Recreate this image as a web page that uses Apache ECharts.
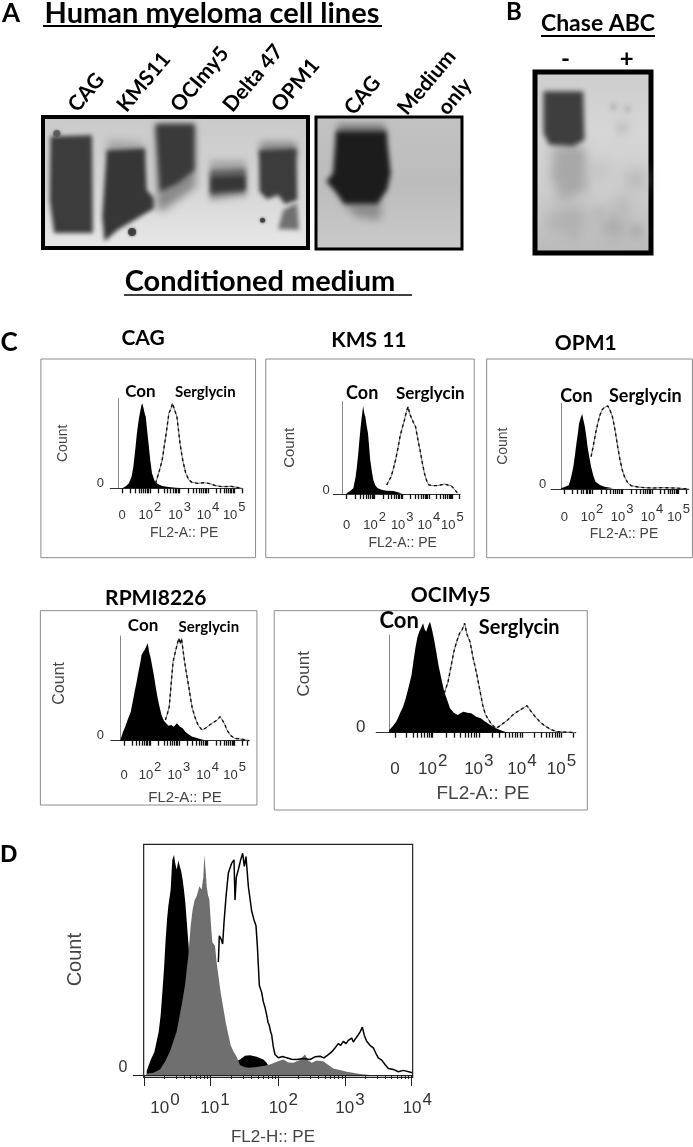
<!DOCTYPE html>
<html><head><meta charset="utf-8">
<style>html,body{margin:0;padding:0;background:#fff}#c{width:693px;height:1147px}</style>
<script src="https://cdn.jsdelivr.net/npm/echarts@6/dist/echarts.min.js"></script>
</head><body><div id="c"></div>
<script>
// ---------- flow-cytometry histograms: [channel, count] ----------
const cagCon=[[275,0],[283,6],[290,15],[296,35],[300,65],[303,100],[305,125],[308,165],[312,205],[316,235],[318,248],[320,255],[323,240],[326,222],[328,215],[331,175],[335,125],[338,85],[342,45],[348,22],[355,13],[365,7],[375,5],[395,2],[420,0]];
const cagSerg=[[350,15],[358,50],[365,85],[370,130],[375,175],[380,225],[385,240],[388,255],[392,250],[398,215],[402,170],[405,135],[411,85],[418,45],[425,25],[432,18],[445,15],[460,17],[472,14],[485,8],[500,5],[520,6],[545,0]];
const kmsCon=[[780,2],[787,8],[795,17],[800,50],[803,82],[806,120],[808,152],[811,195],[814,232],[817,264],[820,240],[822,232],[825,205],[828,182],[831,135],[833,102],[837,65],[840,42],[845,25],[850,17],[860,12],[870,10],[885,9],[895,5],[905,2]];
const kmsSerg=[[870,27],[875,40],[880,52],[885,75],[890,102],[895,135],[900,172],[905,198],[910,222],[914,245],[918,262],[922,240],[925,237],[930,215],[935,202],[940,165],[945,132],[950,95],[955,62],[960,40],[965,27],[975,25],[985,25],[1000,30],[1008,27],[1015,25],[1022,15],[1030,2]];
const opmCon=[[1262,2],[1272,7],[1280,12],[1285,35],[1290,67],[1294,105],[1297,137],[1300,165],[1303,197],[1307,215],[1310,225],[1313,205],[1316,187],[1319,160],[1322,127],[1326,95],[1330,67],[1335,40],[1340,22],[1350,12],[1360,7],[1380,2]];
const opmSerg=[[1330,97],[1335,130],[1340,167],[1345,197],[1350,222],[1355,238],[1360,245],[1364,243],[1368,249],[1373,235],[1378,217],[1382,190],[1385,167],[1390,125],[1395,87],[1400,58],[1405,37],[1412,20],[1420,10],[1435,6],[1450,4],[1470,3],[1490,4],[1520,3],[1550,0]];
const rpmiCon=[[313,2],[320,27],[325,40],[330,57],[335,72],[340,87],[345,117],[350,147],[355,175],[360,207],[365,235],[368,257],[372,265],[376,272],[380,270],[384,292],[388,265],[392,247],[396,222],[400,197],[405,160],[410,127],[415,100],[420,77],[426,60],[432,52],[438,45],[445,47],[452,42],[460,52],[468,42],[475,37],[483,25],[490,19],[500,12],[510,9],[520,5],[530,2]];
const rpmiSerg=[[430,62],[435,80],[440,102],[445,170],[450,237],[455,262],[458,267],[462,295],[465,307],[469,290],[472,307],[476,270],[480,237],[485,200],[490,167],[495,130],[500,97],[507,70],[515,47],[525,32],[535,38],[545,47],[555,55],[565,62],[572,72],[578,62],[584,50],[590,32],[600,15],[610,7],[625,5],[640,2],[648,0]];
const ociCon=[[1012,8],[1020,18],[1030,33],[1035,45],[1040,58],[1048,78],[1055,103],[1062,135],[1070,173],[1075,215],[1080,253],[1085,285],[1090,303],[1095,315],[1100,328],[1104,310],[1108,303],[1113,320],[1118,333],[1123,310],[1128,283],[1134,245],[1140,203],[1147,165],[1155,123],[1162,100],[1170,73],[1180,60],[1190,53],[1197,58],[1205,63],[1215,60],[1225,58],[1238,48],[1250,43],[1262,33],[1275,23],[1288,14],[1300,8],[1320,0]];
const ociSerg=[[1155,118],[1160,135],[1165,153],[1172,195],[1180,243],[1187,272],[1195,298],[1202,310],[1208,328],[1214,295],[1222,273],[1230,225],[1240,173],[1248,125],[1255,83],[1262,55],[1268,43],[1278,25],[1290,13],[1305,25],[1320,38],[1333,53],[1345,63],[1358,72],[1370,81],[1380,65],[1395,43],[1408,28],[1420,18],[1435,8],[1450,3],[1497,0]];
const dBlack=[[440,12],[450,40],[455,52],[463,70],[470,102],[476,130],[482,182],[487,250],[492,322],[497,412],[501,470],[505,512],[509,540],[512,562],[515,620],[517,652],[522,667],[526,640],[530,622],[535,650],[540,647],[544,615],[548,592],[552,560],[556,522],[562,442],[568,362],[580,222],[600,102],[640,42],[700,37],[720,47],[735,58],[750,60],[770,55],[790,47],[800,37],[820,2]];
const dGray=[[440,4],[460,7],[480,17],[495,40],[510,72],[530,132],[545,212],[555,272],[565,362],[572,452],[578,502],[584,530],[590,542],[598,572],[605,562],[610,600],[613,667],[617,620],[620,572],[624,545],[628,532],[634,440],[637,402],[645,392],[650,340],[655,302],[662,250],[670,202],[678,155],[685,122],[692,90],[700,72],[710,55],[720,30],[732,24],[745,22],[770,24],[790,27],[810,32],[830,40],[850,47],[865,38],[880,37],[898,45],[915,62],[925,44],[935,37],[950,44],[970,42],[985,30],[1000,20],[1020,15],[1040,10],[1075,4],[1110,1]];
const dOutline=[[655,342],[658,422],[664,410],[668,397],[672,462],[678,540],[685,612],[695,642],[702,652],[705,530],[709,600],[715,622],[722,652],[728,672],[733,632],[738,662],[745,572],[755,497],[762,470],[768,452],[772,392],[778,272],[785,250],[790,222],[795,205],[800,182],[804,160],[808,150],[812,130],[815,122],[820,85],[825,62],[835,52],[848,56],[860,52],[875,48],[890,47],[910,50],[930,47],[945,55],[960,57],[972,52],[985,62],[995,70],[1005,82],[1015,95],[1022,90],[1030,102],[1038,95],[1045,105],[1055,112],[1060,100],[1065,108],[1075,122],[1080,130],[1087,145],[1093,120],[1100,102],[1110,90],[1120,82],[1128,65],[1135,52],[1145,45],[1155,32],[1165,20],[1180,17],[1195,10],[1210,14],[1238,7]];
// ---------- tick labels ----------
const fl2aLabels=['0','10|2','10|3','10|4','10|5'];
const fl2hLabels=['10|0','10|1','10|2','10|3','10|4'];
const cagTicks=[275,337,404,468,527], kmsTicks=[780,843,905,965,1018], opmTicks=[1270,1332,1400,1467,1527];
const rpmiTicks=[323,390,465,540,610], ociTicks=[1027,1125,1245,1357,1460], dLabelTicks=[495,645,850,1050,1237];
const dMajorTicks=[432,632,835,1035,1235];
// ---------- blots: band outlines [lane position, gel position] ----------
const lanesA1=['CAG','KMS11','OCImy5','Delta 47','OPM1'], laneTicksA1=[163,273,393,511,619];
const lanesA2=['CAG','Medium','only'], laneTicksA2=[785,905,995];
const lanesB=['-','+'], laneTicksB=[1272,1410];
const bandA1Cag=[[114,408],[207,405],[209,700],[122,700],[112,600]];
const smearA1Kms=[[242,418],[322,425],[326,470],[240,470]];
const bandA1Kms=[[240,450],[326,445],[330,570],[347,595],[347,625],[300,662],[265,690],[235,725],[230,650]];
const fadeA1Oci=[[350,372],[437,372],[440,560],[400,600],[365,635],[352,625]];
const bandA1Oci=[[350,372],[437,372],[437,510],[400,550],[360,575]];
const fadeA1Delta=[[472,480],[552,480],[554,590],[472,605]];
const midA1Delta=[[472,510],[552,505],[552,578],[472,588]];
const coreA1Delta=[[475,532],[550,528],[550,568],[475,576]];
const fadeA1Opm=[[584,425],[665,425],[668,470],[584,470]];
const bandA1Opm=[[582,450],[666,445],[668,600],[640,612],[625,585],[600,598],[583,575]];
const tailA1Opm=[[637,630],[667,610],[672,690],[625,688]];
const bandA2Fade=[[760,372],[866,372],[872,410],[760,410]];
const bandA2Cag=[[757,395],[870,395],[880,520],[872,570],[850,612],[775,612],[755,575],[735,545],[750,520]];
const smearA2Cag=[[770,600],[860,600],[855,660],[800,650]];
const bandBminus=[[1222,275],[1312,275],[1315,420],[1290,440],[1235,435],[1222,400]];
const smearBminus=[[1240,440],[1312,440],[1322,570],[1255,610]];
const blobsB=[[1290,655,11,'#a4a4a4'],[1255,665,9,'#aaaaaa'],[1380,680,10,'#a0a0a0'],[1430,540,9,'#b0b0b0'],[1380,322,3,'#aaaaaa'],[1412,328,3,'#b0b0b0'],[1400,385,6,'#bbbbbb'],[1345,640,6,'#b6b6b6'],[1290,700,6,'#b0b0b0'],[1432,695,6,'#a4a4a4'],[1350,510,8,'#c0c0c0'],[1400,620,8,'#b4b4b4'],[1260,520,7,'#9c9c9c'],[1290,475,7,'#909090']];
const specksA1=[[128,400,7,'#555'],[297,697,8,'#333'],[590,661,5,'#333']];

const hs=2.25, hs3=2.6, v=3;
const grids=[],xAxes=[],yAxes=[],series=[],graphics=[];
const G=echarts.graphic;
const LATO='Lato, "Open Sans", sans-serif', SANS='"Liberation Sans", Arial, sans-serif';
function txt(t,x,y,size,opt){opt=opt||{};graphics.push({type:'text',x,y,rotation:opt.rot||0,z:20,style:{text:t,fontFamily:opt.fam||LATO,fontWeight:opt.w||'bold',fontSize:size,fill:opt.c||'#000',align:'center',verticalAlign:'middle'}});}
function rule(x1,x2,y,w){graphics.push({type:'line',z:20,shape:{x1,y1:y,x2,y2:y},style:{stroke:'#000',lineWidth:w||2}});}
function logTicks(starts,end){const o=[];for(let i=0;i<starts.length;i++){const s=starts[i],d=(i+1<starts.length?starts[i+1]:s*2-starts[i-1])-s;for(let k=1;k<10;k++){const t=s+d*Math.log10(k);if(t<=end)o.push(t);}}return o;}
function rich(sz){return {e:{fontSize:1,width:10},b:{fontSize:sz,fontFamily:SANS,color:'#333',verticalAlign:'bottom',lineHeight:sz+8},s:{fontSize:sz,fontFamily:SANS,color:'#333',verticalAlign:'top',lineHeight:sz+8,padding:[0,0,9,1]}};}
function flabel(labels,ticks){return function(val){const i=ticks.findIndex(t=>Math.abs(t-val)<0.5);if(i<0)return '';const p=labels[i].split('|');return p[1]?'{b|'+p[0]+'}{s|'+p[1]+'}':'{b|'+p[0]+'}';};}

function panel(p){
  const s=p.hs, gi=grids.length, xi=xAxes.length, yi=yAxes.length;
  const left=p.xL/s, right=p.xR/s, top=p.y0+p.zTop/v, bottom=p.y0+p.zBase/v;
  grids.push({left,top,width:right-left,height:bottom-top,show:false});
  const ax=p.yX/s;
  const sz=p.fs||13;
  xAxes.push({gridIndex:gi,type:'value',min:p.xL,max:p.xR,name:'FL2-A:: PE',nameLocation:'middle',nameGap:p.nameGap,
    nameTextStyle:{fontFamily:SANS,fontSize:p.nfs||14,color:'#444',padding:[0,0,0,p.nameShift||0]},
    axisLine:{show:true,onZero:false,lineStyle:{color:'#333',width:1}},splitLine:{show:false},
    axisTick:{show:true,length:5,customValues:logTicks(p.ticks,p.xR),lineStyle:{color:'#111',width:1.3}},
    axisLabel:{show:true,hideOverlap:false,customValues:p.ticks,margin:p.lm,formatter:flabel(p.labels,p.ticks),rich:rich(sz)}});
  yAxes.push({gridIndex:gi,type:'value',min:0,max:p.zBase-p.zTop,offset:-(ax-left),name:'Count',nameLocation:'middle',nameGap:(p.yX-p.cX)/s-7,
    nameTextStyle:{fontFamily:SANS,fontSize:p.cnfs||14,color:'#444',padding:[0,0,0,p.cShift||0]},
    axisLine:{show:true,onZero:false,lineStyle:{color:'#888',width:1}},axisTick:{show:false},splitLine:{show:false},
    axisLabel:{show:true,customValues:[p.zBase-p.zeroY],margin:(p.yX-p.zeroX)/s-4,formatter:()=>'0',fontFamily:SANS,fontSize:sz,color:'#333'}});
  const base={type:'line',xAxisIndex:xi,yAxisIndex:yi,symbol:'none',animation:false,silent:true,clip:false};
  series.push(Object.assign({},base,{name:'Con',data:p.con,z:3,lineStyle:{width:0},areaStyle:{color:'#000',opacity:1}}));
  series.push(Object.assign({},base,{name:'Serglycin',data:p.serg,z:4,lineStyle:{color:'#777',width:1}}));
  series.push(Object.assign({},base,{name:'Serglycin',data:p.serg,z:5,lineStyle:{color:'#111',width:1.4,type:[3,3]}}));
  graphics.push({type:'rect',z:1,shape:{x:p.fx0/s,y:p.y0+p.fy0/v,width:(p.fx1-p.fx0)/s,height:(p.fy1-p.fy0)/v},style:{fill:'none',stroke:'#8c8c8c',lineWidth:1}});
  txt(p.title,p.tx/s,p.y0+p.ty/v,p.tfs||21);
  txt('Con',p.conX/s,p.y0+p.conY/v,p.cfs||17);
  txt('Serglycin',p.sgX/s,p.y0+p.sgY/v,p.sfs||16);
}
const Y1=320,Y2=575;
panel({title:'CAG',tx:322,ty:55,hs,y0:Y1,fx0:92,fx1:575,fy0:117,fy1:713,xL:248,xR:545,yX:267,zTop:235,zBase:505,ticks:cagTicks,labels:fl2aLabels,con:cagCon,serg:cagSerg,cX:143,zeroX:225,zeroY:490,conX:316,conY:215,sgX:462,sgY:215,sfs:15,lm:13,nameGap:38,nameShift:16});
panel({title:'KMS 11',tx:830,ty:62,hs,y0:Y1,fx0:598,fx1:1067,fy0:117,fy1:713,xL:750,xR:1035,yX:771,zTop:245,zBase:522,ticks:kmsTicks,labels:fl2aLabels,con:kmsCon,serg:kmsSerg,cX:653,zeroX:733,zeroY:510,conX:815,conY:220,sgX:968,sgY:222,sfs:17,cfs:18,lm:17,nameGap:42,nameShift:12,cnfs:15});
panel({title:'OPM1',tx:1318,ty:70,hs,y0:Y1,fx0:1095,fx1:1558,fy0:117,fy1:713,xL:1240,xR:1550,yX:1262,zTop:250,zBase:507,ticks:opmTicks,labels:fl2aLabels,con:opmCon,serg:opmSerg,cX:1133,zeroX:1220,zeroY:493,conX:1297,conY:228,sgX:1452,sgY:230,sfs:18,cfs:18,lm:14,nameGap:38,nameShift:8});
panel({title:'RPMI8226',tx:405,ty:70,hs:hs3,y0:Y2,fx0:105,fx1:668,fy0:107,fy1:690,xL:288,xR:648,yX:313,zTop:183,zBase:497,ticks:rpmiTicks,labels:fl2aLabels,con:rpmiCon,serg:rpmiSerg,cX:158,zeroX:260,zeroY:482,conX:372,conY:152,sgX:543,sgY:155,sfs:15,lm:20,nameGap:50,nameShift:10,cShift:10,cnfs:16,nfs:15});
panel({title:'OCIMy5',tx:1172,ty:60,hs:hs3,y0:Y2,fx0:713,fx1:1527,fy0:107,fy1:705,xL:978,xR:1497,yX:1012,zTop:180,zBase:473,ticks:ociTicks,labels:fl2aLabels,con:ociCon,serg:ociSerg,cX:795,zeroX:940,zeroY:458,conX:1038,conY:137,sgX:1350,sgY:157,sfs:20,cfs:22,lm:20,nameGap:52,nameShift:14,cShift:20,fs:17,nfs:19,cnfs:17});

// panel D
(function(){
  const s=3,y0=830,gi=grids.length,xi=xAxes.length,yi=yAxes.length;
  const left=400/s,right=1238/s,top=y0+43/s,bottom=y0+742/s;
  grids.push({left,top,width:right-left,height:bottom-top,show:false});
  const labels=dLabelTicks;
  const fmt=flabel(fl2hLabels,labels);
  xAxes.push({gridIndex:gi,type:'value',min:400,max:1238,name:'FL2-H:: PE',nameLocation:'middle',nameGap:54,
    nameTextStyle:{fontFamily:SANS,fontSize:17,color:'#444'},
    axisLine:{show:true,onZero:false,lineStyle:{color:'#222',width:1}},splitLine:{show:false},
    axisTick:{show:true,length:4,customValues:logTicks(dMajorTicks,1238),lineStyle:{color:'#222',width:1}},
    axisLabel:{show:true,hideOverlap:false,customValues:labels,margin:17,formatter:v=>(Math.abs(v-1237)<0.5?'{e| }':'')+fmt(v),rich:rich(17)}});
  xAxes.push({gridIndex:gi,type:'value',min:400,max:1238,position:'bottom',
    axisLine:{show:false},splitLine:{show:false},axisLabel:{show:false},
    axisTick:{show:true,length:11,customValues:dMajorTicks,lineStyle:{color:'#222',width:1}}});
  yAxes.push({gridIndex:gi,type:'value',min:0,max:699,name:'Count',nameLocation:'middle',nameGap:(400-232)/s-8,
    nameTextStyle:{fontFamily:SANS,fontSize:20,color:'#444'},
    axisLine:{show:false},axisTick:{show:false},splitLine:{show:false},
    axisLabel:{show:true,customValues:[22],margin:6,formatter:()=>'0',fontFamily:SANS,fontSize:16,color:'#333'}});
  const base={type:'line',xAxisIndex:xi,yAxisIndex:yi,symbol:'none',animation:false,silent:true};
  series.push(Object.assign({},base,{name:'Isotype',data:dBlack,z:3,lineStyle:{width:0},areaStyle:{color:'#000',opacity:1}}));
  series.push(Object.assign({},base,{name:'Control',data:dGray,z:4,lineStyle:{width:0},areaStyle:{color:'#6f6f6f',opacity:1}}));
  series.push(Object.assign({},base,{name:'Serglycin',data:dOutline,z:5,lineStyle:{color:'#000',width:1.5}}));
  graphics.push({type:'rect',z:6,shape:{x:431/s,y:y0+43/s,width:807/s,height:699/s},style:{fill:'none',stroke:'#222',lineWidth:1.2}});
})();

// blots: every band is painted as its own soft shadow, so that its edges are diffuse like a film exposure
const OFF=1500;
function blot(b){
  const gi=grids.length, xi=xAxes.length, yi=yAxes.length;
  grids.push({left:b.left,top:b.top,width:b.w,height:b.h,show:true,borderColor:'#000',borderWidth:b.bw,
    backgroundColor:new G.LinearGradient(0,0,0,1,b.bg)});
  xAxes.push({gridIndex:gi,type:'value',position:'top',min:b.x0,max:b.x1,
    axisLine:{show:false},axisTick:{show:false},splitLine:{show:false},
    axisLabel:{show:true,hideOverlap:false,customValues:b.ticks,margin:b.m,rotate:b.rot,
      formatter:v=>{const i=b.ticks.findIndex(t=>Math.abs(t-v)<0.5);return i<0?'':b.names[i];},
      fontFamily:LATO,fontWeight:'bold',fontSize:b.fs,color:'#000'}});
  yAxes.push({gridIndex:gi,type:'value',inverse:true,min:b.y0,max:b.y1,show:false});
  const items=(b.blobs||[]).map(d=>({circle:d,c:d[3],blur:d[2]*1.6})).concat(b.polys);
  series.push({type:'custom',coordinateSystem:'cartesian2d',xAxisIndex:xi,yAxisIndex:yi,silent:true,animation:false,z:3,clip:false,
    data:items.map((_,i)=>[b.x0,b.y0,i]),
    renderItem:function(params,api){
      const P=items[params.dataIndex];
      const style={fill:P.c,shadowBlur:P.blur,shadowColor:P.c,shadowOffsetX:OFF};
      if(P.circle){const q=api.coord([P.circle[0],P.circle[1]]);return {type:'circle',shape:{cx:q[0]-OFF,cy:q[1],r:P.circle[2]},style};}
      return {type:'polygon',shape:{points:P.pts.map(q=>{const w=api.coord(q);return [w[0]-OFF,w[1]];})},style};
    }});
  if(b.specks) series.push({type:'scatter',xAxisIndex:xi,yAxisIndex:yi,silent:true,animation:false,z:4,
    data:b.specks.map(d=>({value:[d[0],d[1]],symbolSize:d[2],itemStyle:{color:d[3],shadowBlur:3,shadowColor:d[3]}}))});
}
const stops=(...a)=>a.map((c,i)=>({offset:i/(a.length-1),color:c}));
blot({left:43,top:117,w:265,h:131,bw:4,x0:97,x1:692,y0:350,y1:745,bg:stops('#cacaca','#d4d4d4','#e8e8e8'),ticks:laneTicksA1,names:lanesA1,m:8,rot:-50,fs:21,
  specks:specksA1,
  polys:[
    {pts:bandA1Cag,c:'#3c3c3c',blur:4},
    {pts:smearA1Kms,c:'#a6a6a6',blur:8},
    {pts:bandA1Kms,c:'#363636',blur:4},
    {pts:fadeA1Oci,c:'#8a8a8a',blur:8},
    {pts:bandA1Oci,c:'#3a3a3a',blur:5},
    {pts:fadeA1Delta,c:'#a8a8a8',blur:6},
    {pts:midA1Delta,c:'#606060',blur:5},
    {pts:coreA1Delta,c:'#363636',blur:4},
    {pts:fadeA1Opm,c:'#8c8c8c',blur:7},
    {pts:bandA1Opm,c:'#3c3c3c',blur:4},
    {pts:tailA1Opm,c:'#707070',blur:4}
  ]});
blot({left:316,top:117,w:146,h:132,bw:3,x0:712,x1:1040,y0:352,y1:747,bg:stops('#c2c2c2','#bcbcbc','#cacaca'),ticks:laneTicksA2,names:lanesA2,m:5,rot:-50,fs:21,
  polys:[
    {pts:smearA2Cag,c:'#8c8c8c',blur:9},
    {pts:bandA2Fade,c:'#808080',blur:6},
    {pts:bandA2Cag,c:'#1c1c1c',blur:5}
  ]});
blot({left:535,top:72,w:116,h:181,bw:5,x0:1203,x1:1465,y0:217,y1:760,bg:stops('#cdcdcd','#d6d6d6','#cccccc','#bababa'),ticks:laneTicksB,names:lanesB,m:1,rot:0,fs:24,
  blobs:blobsB,
  polys:[
    {pts:smearBminus,c:'#a8a8a8',blur:12},
    {pts:bandBminus,c:'#3e3e3e',blur:5}
  ]});

// titles
txt('A',11,14,26); txt('Human myeloma cell lines',212,14,29); rule(43,382,26,2);
txt('B',514,12,24); txt('Chase ABC',598,24,23); rule(541,655,36,2);
txt('Conditioned medium',260,282,29); rule(124,412,295,1.5);
txt('C',9,343,26); txt('D',9,855,24,{fam:SANS});

const chart=echarts.init(document.getElementById('c'),null,{renderer:'canvas'});
chart.setOption({animation:false,backgroundColor:'#fff',grid:grids,xAxis:xAxes,yAxis:yAxes,series,graphic:graphics});
</script></body></html>
